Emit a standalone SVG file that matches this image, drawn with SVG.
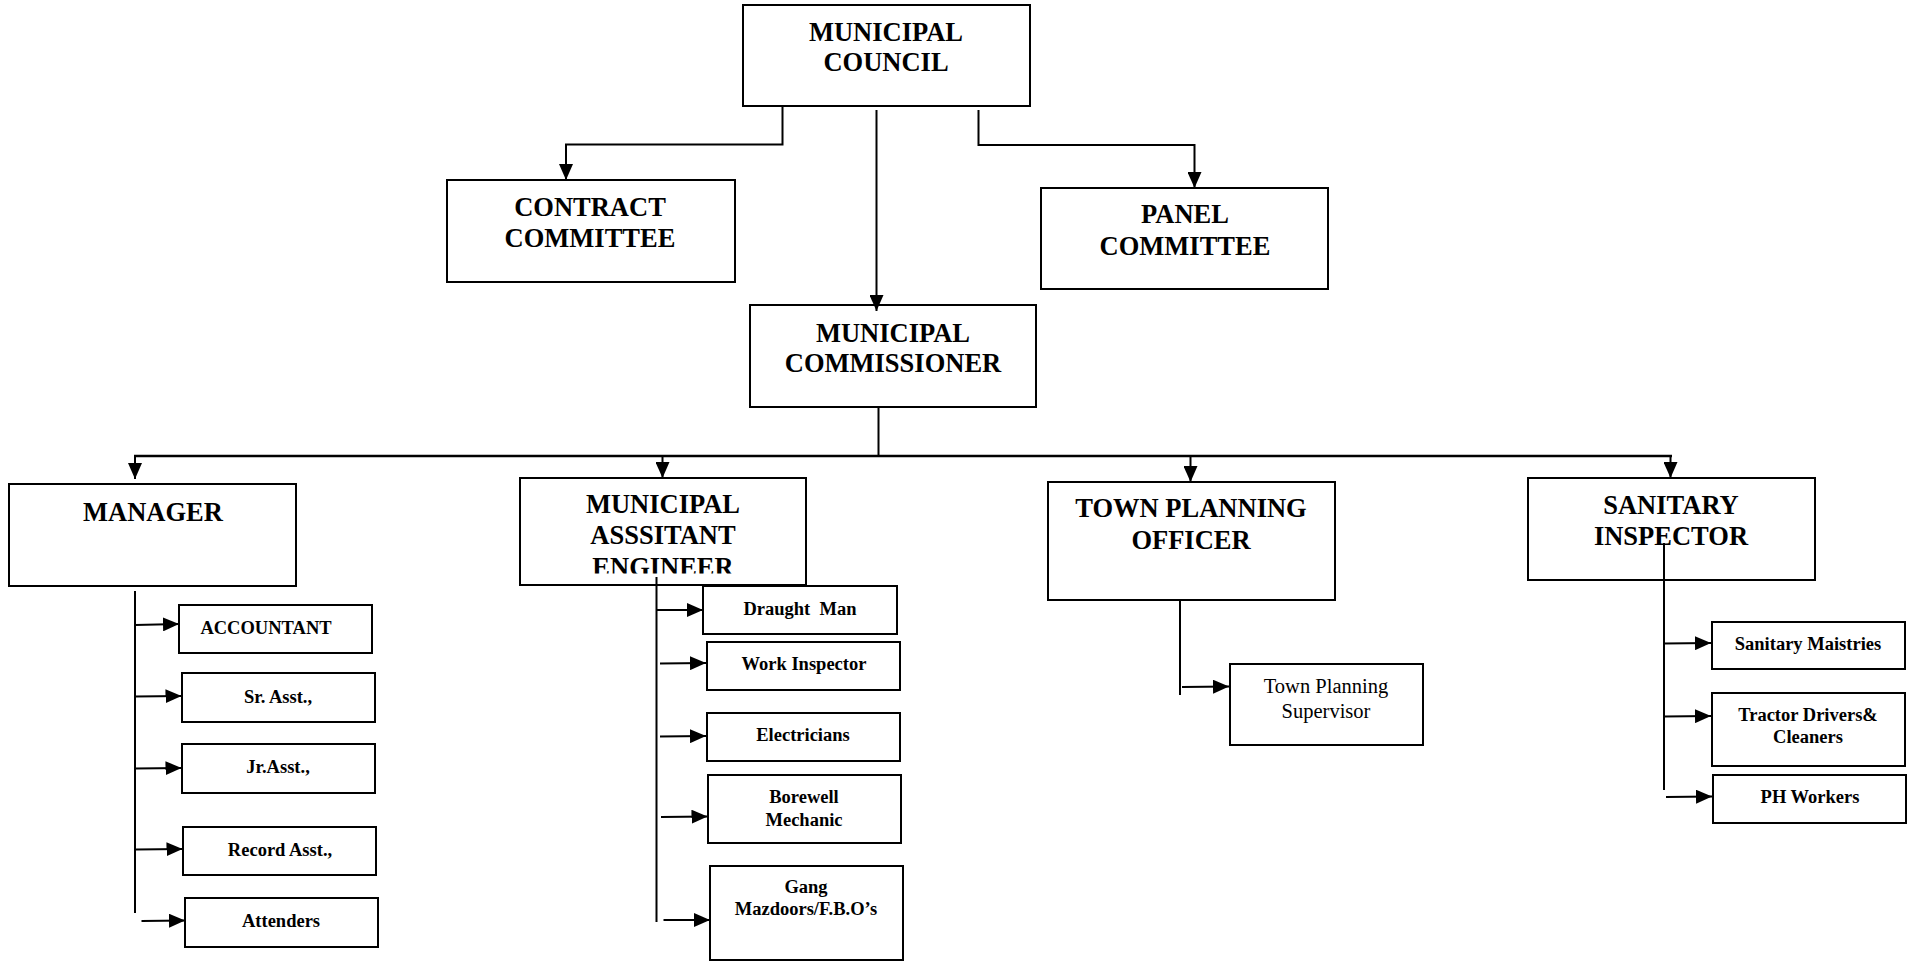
<svg xmlns="http://www.w3.org/2000/svg" width="1909" height="962" viewBox="0 0 1909 962">
<style>
.box{fill:#fff;stroke:#000;stroke-width:2}
.t{font-family:"Liberation Serif","Times New Roman",serif;font-weight:bold;text-anchor:middle;fill:#000}
.big{font-size:26.5px}
.sm{font-size:18.5px}
.reg{font-weight:normal;font-size:20.5px}
.c{stroke:#000;stroke-width:2;fill:none}
.ca{stroke:#000;stroke-width:2;fill:none;marker-end:url(#ah)}
</style>
<defs>
<marker id="ah" markerUnits="userSpaceOnUse" markerWidth="16" markerHeight="14" refX="16" refY="7" orient="auto">
<path d="M0,0 L16,7 L0,14 z" fill="#000"/>
</marker>
<clipPath id="maeclip"><rect x="520" y="478" width="286" height="95.5"/></clipPath>
</defs>
<rect width="1909" height="962" fill="#fff"/>

<g id="council"><rect class="box" x="743" y="5" width="287" height="101"/>
<text class="t big" x="886" y="41">MUNICIPAL</text><text class="t big" x="886" y="71">COUNCIL</text></g>
<g id="contract"><rect class="box" x="447" y="180" width="288" height="102"/>
<text class="t big" x="590" y="216">CONTRACT</text><text class="t big" x="590" y="247">COMMITTEE</text></g>
<g id="panel"><rect class="box" x="1041" y="188" width="287" height="101"/>
<text class="t big" x="1185" y="223">PANEL</text><text class="t big" x="1185" y="255">COMMITTEE</text></g>
<g id="commissioner"><rect class="box" x="750" y="305" width="286" height="102"/>
<text class="t big" x="893" y="342">MUNICIPAL</text><text class="t big" x="893" y="372">COMMISSIONER</text></g>

<g id="manager"><rect class="box" x="9" y="484" width="287" height="102"/>
<text class="t big" x="153" y="521">MANAGER</text></g>
<g id="mae"><rect class="box" x="520" y="478" width="286" height="107"/>
<g clip-path="url(#maeclip)"><text class="t big" x="663" y="513">MUNICIPAL</text><text class="t big" x="663" y="544">ASSSITANT</text><text class="t big" x="663" y="575.5">ENGINEER</text></g></g>
<g id="tpo"><rect class="box" x="1048" y="482" width="287" height="118"/>
<text class="t big" x="1191" y="517">TOWN PLANNING</text><text class="t big" x="1191" y="549">OFFICER</text></g>
<g id="si"><rect class="box" x="1528" y="478" width="287" height="102"/>
<text class="t big" x="1671" y="514">SANITARY</text><text class="t big" x="1671" y="545">INSPECTOR</text></g>

<g id="accountant"><rect class="box" x="179" y="605" width="193" height="48"/><text class="t sm" x="266" y="634">ACCOUNTANT</text></g>
<g id="srasst"><rect class="box" x="182" y="673" width="193" height="49"/><text class="t sm" x="278" y="703">Sr. Asst.,</text></g>
<g id="jrasst"><rect class="box" x="182" y="744" width="193" height="49"/><text class="t sm" x="278" y="773">Jr.Asst.,</text></g>
<g id="recordasst"><rect class="box" x="183" y="827" width="193" height="48"/><text class="t sm" x="280" y="856">Record Asst.,</text></g>
<g id="attenders"><rect class="box" x="185" y="898" width="193" height="49"/><text class="t sm" x="281" y="927">Attenders</text></g>

<g id="draughtman"><rect class="box" x="703" y="586" width="194" height="48"/><text class="t sm" x="800" y="615" xml:space="preserve">Draught  Man</text></g>
<g id="workinspector"><rect class="box" x="707" y="642" width="193" height="48"/><text class="t sm" x="804" y="670">Work Inspector</text></g>
<g id="electricians"><rect class="box" x="707" y="713" width="193" height="48"/><text class="t sm" x="803" y="741">Electricians</text></g>
<g id="borewell"><rect class="box" x="708" y="775" width="193" height="68"/><text class="t sm" x="804" y="803">Borewell</text><text class="t sm" x="804" y="826">Mechanic</text></g>
<g id="gang"><rect class="box" x="710" y="866" width="193" height="94"/><text class="t sm" x="806" y="893">Gang</text><text class="t sm" x="806" y="915">Mazdoors/F.B.O’s</text></g>

<g id="tps"><rect class="box" x="1230" y="664" width="193" height="81"/><text class="t reg" x="1326" y="693">Town Planning</text><text class="t reg" x="1326" y="718">Supervisor</text></g>

<g id="maistries"><rect class="box" x="1712" y="622" width="193" height="47"/><text class="t sm" x="1808" y="650">Sanitary Maistries</text></g>
<g id="tractor"><rect class="box" x="1712" y="693" width="193" height="73"/><text class="t sm" x="1808" y="721">Tractor Drivers&amp;</text><text class="t sm" x="1808" y="743">Cleaners</text></g>
<g id="phworkers"><rect class="box" x="1713" y="775" width="193" height="48"/><text class="t sm" x="1810" y="803">PH Workers</text></g>

<g id="connectors">
<path class="ca" d="M782.5,106 V144.5 H566 V180"/>
<path class="ca" d="M876.5,110 V311"/>
<path class="ca" d="M978.5,110 V145 H1194.5 V188"/>
<path class="c" d="M878.5,407 V456"/>
<path class="c" d="M134,456 H1672" style="stroke-width:2.5"/>
<path class="ca" d="M135,456 V479"/>
<path class="ca" d="M662.5,456 V478"/>
<path class="ca" d="M1190.5,456 V482"/>
<path class="ca" d="M1670.5,456 V478"/>

<path class="c" d="M135,591 V913"/>
<path class="ca" d="M135,625 L179,624"/>
<path class="ca" d="M135,696.5 L181.5,696"/>
<path class="ca" d="M135,768.5 L181.5,768"/>
<path class="ca" d="M136,849.5 L182.5,849"/>
<path class="ca" d="M141.5,921 L185,920.5"/>

<path class="c" d="M656.5,577 V922"/>
<path class="ca" d="M656.5,610 L703,610"/>
<path class="ca" d="M660,663.5 L706,663"/>
<path class="ca" d="M660,736.5 L706,736"/>
<path class="ca" d="M661,817 L707.5,816.5"/>
<path class="ca" d="M663.5,920 L710,920"/>

<path class="c" d="M1180,600 V695"/>
<path class="ca" d="M1182,687 L1229,686.5"/>

<path class="c" d="M1664,543 V790"/>
<path class="ca" d="M1664,643.5 L1711,643"/>
<path class="ca" d="M1664,716.5 L1711,716"/>
<path class="ca" d="M1666,797 L1712,796.5"/>
</g>
</svg>
